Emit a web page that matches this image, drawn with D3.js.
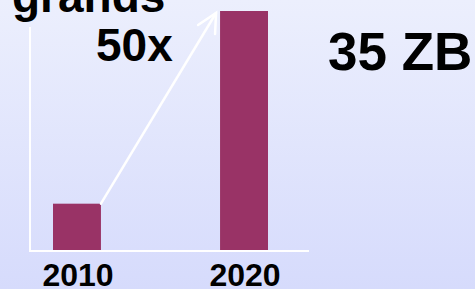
<!DOCTYPE html>
<html>
<head>
<meta charset="utf-8">
<script src="https://cdn.jsdelivr.net/npm/d3@7"></script>
<style>
  html, body { margin: 0; padding: 0; overflow: hidden; }
  text { font-family: "Liberation Sans", Arial, sans-serif; font-weight: bold; fill: #000; }
</style>
</head>
<body>
<div id="graph"></div>
<script>
// data
const years = ["2010", "2020"]
const volumes = [6.9, 35]   // zettabytes, as drawn
const yMax = 35
const growthLabel = "50x"
const totalLabel = "35 ZB"
const headLabel = "grands"

const width = 475
const height = 289
const baseY = 251
const topY = 11

const svg = d3.select("#graph").append("svg")
  .attr("width", width)
  .attr("height", height)

// background gradient
const defs = svg.append("defs")
const grad = defs.append("linearGradient")
  .attr("id", "bg")
  .attr("x1", 0).attr("y1", 0).attr("x2", 0).attr("y2", 1)
grad.append("stop").attr("offset", "0%").attr("stop-color", "#eceffd")
grad.append("stop").attr("offset", "100%").attr("stop-color", "#d6dbfc")

svg.append("rect")
  .attr("width", width)
  .attr("height", height)
  .attr("fill", "url(#bg)")

// scales
const x = d3.scaleBand()
  .domain(years)
  .range([53, 268])
  .paddingInner(0.713)
  .paddingOuter(0)

const y = d3.scaleLinear()
  .domain([0, yMax])
  .range([baseY, topY])

// bars
svg.selectAll("rect.bar")
  .data(years)
  .enter()
  .append("rect")
  .attr("class", "bar")
  .attr("x", d => x(d))
  .attr("y", (d, i) => y(volumes[i]))
  .attr("width", x.bandwidth())
  .attr("height", (d, i) => y(0) - y(volumes[i]))
  .attr("fill", "#993366")

// axis lines (white)
svg.append("line")
  .attr("x1", 30).attr("x2", 30)
  .attr("y1", 27).attr("y2", y(0))
  .attr("stroke", "#fff").attr("stroke-width", 2)
svg.append("line")
  .attr("x1", 29).attr("x2", 309)
  .attr("y1", y(0)).attr("y2", y(0))
  .attr("stroke", "#fff").attr("stroke-width", 2)

// growth arrow from top of 2010 bar to top of 2020 bar
const x0 = x(years[0]) + x.bandwidth()
const y0 = y(volumes[0])
const x1 = x(years[1]) - 4
const y1 = y(volumes[1]) + 2
svg.append("line")
  .attr("x1", x0).attr("y1", y0)
  .attr("x2", x1).attr("y2", y1)
  .attr("stroke", "#fff").attr("stroke-width", 2.5)
  .attr("stroke-linecap", "round")
svg.append("path")
  .attr("d", `M${x1 - 18},${y1 + 12}L${x1},${y1}L${x1 - 1},${y1 + 21}`)
  .attr("fill", "none")
  .attr("stroke", "#fff").attr("stroke-width", 2.5)
  .attr("stroke-linecap", "round")
  .attr("stroke-linejoin", "miter")

// year labels
svg.selectAll("text.year")
  .data(years)
  .enter()
  .append("text")
  .attr("class", "year")
  .attr("x", d => x(d) + x.bandwidth() / 2 + 1)
  .attr("y", 286)
  .attr("text-anchor", "middle")
  .style("font-size", "32px")
  .text(d => d)

// big labels
svg.append("text")
  .attr("x", 12)
  .attr("y", 12)
  .style("font-size", "46px")
  .text(headLabel)

svg.append("text")
  .attr("x", 96)
  .attr("y", 61)
  .style("font-size", "46px")
  .text(growthLabel)

svg.append("text")
  .attr("x", 328)
  .attr("y", 70)
  .style("font-size", "53px")
  .text(totalLabel)
</script>
</body>
</html>
